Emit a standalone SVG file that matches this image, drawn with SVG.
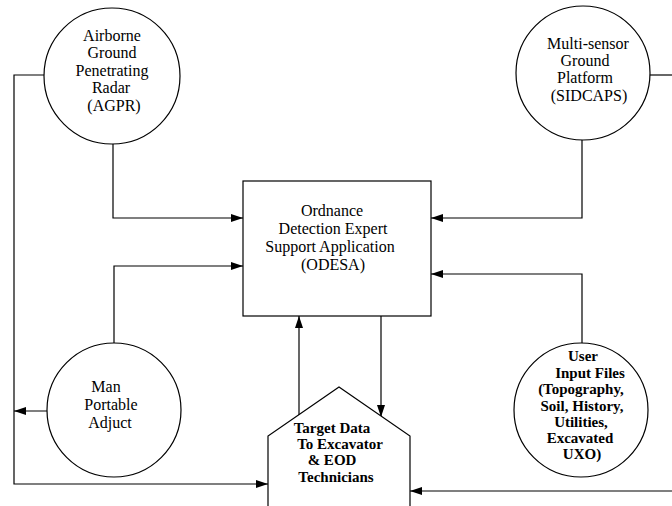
<svg xmlns="http://www.w3.org/2000/svg" width="672" height="506" viewBox="0 0 672 506">
<style>
.s{fill:none;stroke:#000;stroke-width:1.2}
.n{fill:#fff;stroke:#000;stroke-width:1.2}
.t{font-family:"Liberation Serif","Times New Roman",serif;font-size:16px;fill:#000;text-anchor:middle}
.b{font-family:"Liberation Serif","Times New Roman",serif;font-size:15px;font-weight:bold;fill:#000;text-anchor:middle}
</style>
<defs>
<marker id="a" viewBox="0 0 12 8" refX="12" refY="4" markerWidth="12" markerHeight="8" markerUnits="userSpaceOnUse" orient="auto">
<path d="M0,0 L12,4 L0,8 Z" fill="#000"/>
</marker>
</defs>
<rect width="672" height="506" fill="#fff"/>
<g id="connectors">
<path class="s" d="M113,144 V218 H243" marker-end="url(#a)"/>
<path class="s" d="M582,140 V218 H431" marker-end="url(#a)"/>
<path class="s" d="M114,343 V266 H243" marker-end="url(#a)"/>
<path class="s" d="M582,343 V274 H431" marker-end="url(#a)"/>
<path class="s" d="M44,75 H14 V484 H268" marker-end="url(#a)"/>
<path class="s" d="M47,411 H14" marker-end="url(#a)"/>
<path class="s" d="M672,75 H650"/>
<path class="s" d="M672,491 H410" marker-end="url(#a)"/>
<path class="s" d="M299,415 V316" marker-end="url(#a)"/>
<path class="s" d="M381,316 V417" marker-end="url(#a)"/>
</g>
<g id="agpr">
<circle class="n" cx="112" cy="76" r="68"/>
<text class="t" x="112" y="41">Airborne</text>
<text class="t" x="112" y="58">Ground</text>
<text class="t" x="112" y="76">Penetrating</text>
<text class="t" x="111" y="93">Radar</text>
<text class="t" x="114" y="111">(AGPR)</text>
</g>
<g id="sidcaps">
<circle class="n" cx="583" cy="73" r="67"/>
<text class="t" x="588" y="49">Multi-sensor</text>
<text class="t" x="585" y="66">Ground</text>
<text class="t" x="585" y="83">Platform</text>
<text class="t" x="589" y="101">(SIDCAPS)</text>
</g>
<g id="odesa">
<rect class="n" x="243" y="181" width="188" height="135"/>
<text class="t" x="332" y="216">Ordnance</text>
<text class="t" x="333" y="234">Detection Expert</text>
<text class="t" x="330" y="252">Support Application</text>
<text class="t" x="333" y="270">(ODESA)</text>
</g>
<g id="man">
<circle class="n" cx="114" cy="410" r="67"/>
<text class="t" x="106" y="392">Man</text>
<text class="t" x="111" y="410">Portable</text>
<text class="t" x="110" y="428">Adjuct</text>
</g>
<g id="user">
<circle class="n" cx="581" cy="410" r="67"/>
<text class="b" x="583" y="361">User</text>
<text class="b" x="590" y="378">Input Files</text>
<text class="b" x="581" y="394">(Topography,</text>
<text class="b" x="582" y="411">Soil, History,</text>
<text class="b" x="581" y="427">Utilities,</text>
<text class="b" x="580" y="443">Excavated</text>
<text class="b" x="582" y="459">UXO)</text>
</g>
<g id="target">
<path class="n" d="M268,506 V436 L339,387 L410,436 V506"/>
<text class="b" x="332" y="433">Target Data</text>
<text class="b" x="340" y="449">To Excavator</text>
<text class="b" x="332" y="465">&amp; EOD</text>
<text class="b" x="336" y="482">Technicians</text>
</g>
</svg>
